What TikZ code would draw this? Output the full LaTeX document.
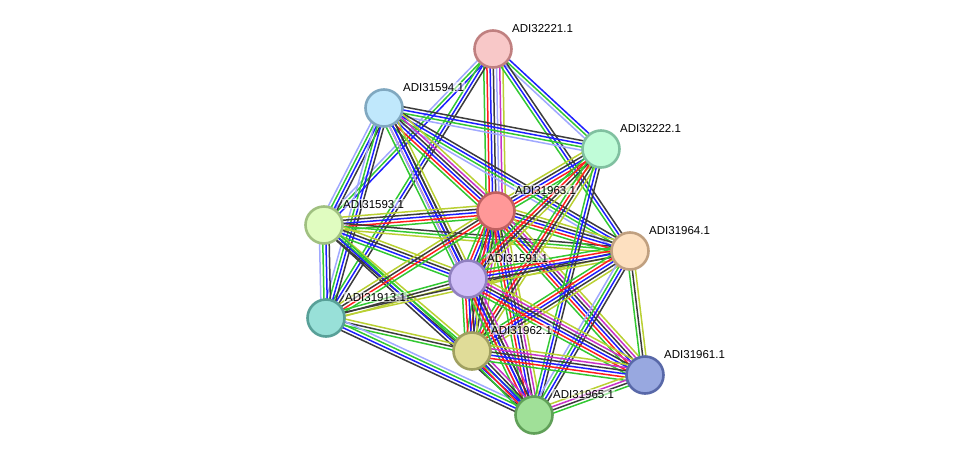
\documentclass[tikz,border=0pt]{standalone}
\usepackage{fontspec}
\setmainfont{Liberation Sans}
\usetikzlibrary{calc}
\pgfdeclarelayer{edges}
\pgfsetlayers{edges,main}
\definecolor{cg}{RGB}{50,200,50}
\definecolor{cr}{RGB}{255,30,30}
\definecolor{cb}{RGB}{30,30,255}
\definecolor{ck}{RGB}{60,60,60}
\definecolor{cm}{RGB}{200,50,200}
\definecolor{cl}{RGB}{160,168,255}
\definecolor{cy}{RGB}{185,208,50}
\tikzset{
  eg/.style={draw=cg}, er/.style={draw=cr}, eb/.style={draw=cb}, ek/.style={draw=ck},
  em/.style={draw=cm}, el/.style={draw=cl}, ey/.style={draw=cy},
  prot/.style={circle, minimum size=37pt, inner sep=0pt, line width=2.6pt},
  lab/.style={anchor=base west, inner sep=1pt, font=\fontsize{11.5}{13}\selectfont,
    fill=white, fill opacity=0.55, text opacity=1}
}
\newcommand\sedge[3]{%
  \foreach \c [count=\i] in {#3} {\xdef\nn{\i}}%
  \foreach \c [count=\i] in {#3} {%
    \pgfmathsetmacro\off{(\i-(\nn+1)/2)*3.2}%
    \draw[\c, line width=1.5pt] ($(#1.center)!\off pt!90:(#2.center)$) -- ($(#2.center)!\off pt!-90:(#1.center)$);
  }}
\newcommand\protlabel[2]{\node[lab] (l#1) at ([xshift=18pt,yshift=17pt]#1.center) {#2};}
\begin{document}
\begin{tikzpicture}[x=1pt,y=-1pt]
\useasboundingbox (0,0) rectangle (975,461);
\node[prot, fill={rgb,255:red,248;green,200;blue,200}, draw={rgb,255:red,192;green,128;blue,128}] (A) at (493,49) {};
\node[prot, fill={rgb,255:red,192;green,232;blue,252}, draw={rgb,255:red,128;green,168;blue,192}] (B) at (384,108) {};
\node[prot, fill={rgb,255:red,192;green,252;blue,216}, draw={rgb,255:red,128;green,192;blue,160}] (C) at (601,149) {};
\node[prot, fill={rgb,255:red,255;green,152;blue,152}, draw={rgb,255:red,192;green,96;blue,96}] (D) at (496,211) {};
\node[prot, fill={rgb,255:red,224;green,252;blue,192}, draw={rgb,255:red,160;green,192;blue,128}] (E) at (324,225) {};
\node[prot, fill={rgb,255:red,253;green,224;blue,192}, draw={rgb,255:red,192;green,160;blue,128}] (F) at (630,251) {};
\node[prot, fill={rgb,255:red,208;green,192;blue,248}, draw={rgb,255:red,144;green,128;blue,192}] (G) at (468,279) {};
\node[prot, fill={rgb,255:red,152;green,224;blue,216}, draw={rgb,255:red,88;green,160;blue,152}] (H) at (326,318) {};
\node[prot, fill={rgb,255:red,224;green,220;blue,152}, draw={rgb,255:red,160;green,160;blue,96}] (I) at (472,351) {};
\node[prot, fill={rgb,255:red,152;green,168;blue,224}, draw={rgb,255:red,88;green,104;blue,168}] (J) at (645,375) {};
\node[prot, fill={rgb,255:red,160;green,224;blue,152}, draw={rgb,255:red,96;green,160;blue,88}] (K) at (534,415) {};
\protlabel{A}{ADI32221.1}
\protlabel{B}{ADI31594.1}
\protlabel{C}{ADI32222.1}
\protlabel{D}{ADI31963.1}
\protlabel{E}{ADI31593.1}
\protlabel{F}{ADI31964.1}
\protlabel{G}{ADI31591.1}
\protlabel{H}{ADI31913.1}
\protlabel{I}{ADI31962.1}
\protlabel{J}{ADI31961.1}
\protlabel{K}{ADI31965.1}
\begin{pgfonlayer}{edges}
\sedge{A}{D}{eg,er,eb,ek,el,em,ey}
\sedge{A}{C}{el,eg,eb}
\sedge{A}{F}{eg,eb,ek}
\sedge{A}{E}{el,eg,eb}
\sedge{A}{H}{eg,eb,ek}
\sedge{B}{C}{el,eg,eb,ek}
\sedge{B}{F}{el,eg,eb,ek}
\sedge{B}{D}{eg,er,eb,ek,em,ey}
\sedge{B}{G}{eg,er,eb,ek,ey}
\sedge{B}{E}{el,eg,eb,ek}
\sedge{B}{H}{el,eg,eb,ek}
\sedge{B}{K}{el,eb,ek}
\sedge{E}{D}{eg,er,eb,ek,ey}
\sedge{E}{F}{ey,eg,ek}
\sedge{E}{G}{eg,eb,ek,ey}
\sedge{E}{H}{el,eg,eb,ek}
\sedge{E}{I}{ek,eg,ey}
\sedge{E}{K}{ek,eb,eg}
\sedge{H}{D}{eg,er,ek,ey}
\sedge{H}{G}{ey,ek,eg}
\sedge{H}{F}{ey,ek}
\sedge{H}{I}{eg,ek,ey}
\sedge{H}{K}{ek,eb,eg,el}
\sedge{D}{C}{eg,er,eb,ek,ey}
\sedge{D}{F}{eg,er,eb,ek,ey}
\sedge{D}{G}{eg,er,eb,ek,em,ey}
\sedge{D}{I}{eg,er,eb,ek,em,ey}
\sedge{D}{K}{eg,er,eb,ek,em,ey}
\sedge{D}{J}{eg,er,eb,ek,em,ey}
\sedge{C}{G}{eg,er,ek,ey}
\sedge{C}{I}{eg,er,ek,ey}
\sedge{C}{K}{eg,eb,ek}
\sedge{F}{G}{eg,er,eb,ek,ey}
\sedge{F}{I}{eg,er,eb,ek,ey}
\sedge{F}{K}{el,eg,eb,ek}
\sedge{F}{J}{eg,ek,ey}
\sedge{G}{I}{eg,er,eb,ek,ey}
\sedge{G}{K}{eg,er,eb,ek,em}
\sedge{G}{J}{eg,er,eb,ek,em,ey}
\sedge{I}{K}{eg,er,eb,ek,em}
\sedge{I}{J}{eg,er,eb,ek,em,ey}
\sedge{K}{J}{eg,ek,em,ey}
\end{pgfonlayer}
\end{tikzpicture}
\end{document}
